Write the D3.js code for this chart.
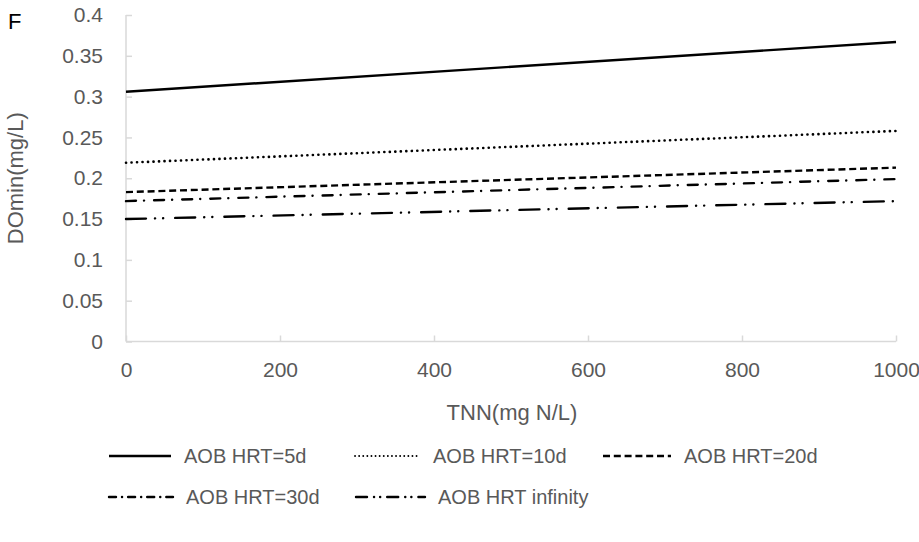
<!DOCTYPE html>
<html>
<head>
<meta charset="utf-8">
<script src="https://cdn.jsdelivr.net/npm/d3@7"></script>
<style>
  body { margin: 0; background: #fff; }
  svg { font-family: "Liberation Sans", Arial, sans-serif; }
  .axis path, .axis line { stroke: #d9d9d9; stroke-width: 1.5; }
  .axis text { fill: #595959; font-size: 21px; }
</style>
</head>
<body>
<div id="chart"></div>
<script>
// data (straight lines, value at TNN = 0 and 1000)
const tnn = [0, 1000];
const series_names = ["AOB HRT=5d", "AOB HRT=10d", "AOB HRT=20d", "AOB HRT=30d", "AOB HRT infinity"];
const hrt5 = [0.306, 0.367];
const hrt10 = [0.219, 0.258];
const hrt20 = [0.183, 0.213];
const hrt30 = [0.172, 0.199];
const hrtInf = [0.150, 0.172];
const x_ticks = [0, 200, 400, 600, 800, 1000];
const y_ticks = [0, 0.05, 0.1, 0.15, 0.2, 0.25, 0.3, 0.35, 0.4];

const width = 919, height = 542;
const plot_left = 126, plot_right = 896, plot_top = 15, plot_bottom = 341.5;

const svg = d3.select("#chart").append("svg")
    .attr("width", width)
    .attr("height", height);

const x = d3.scaleLinear().domain([0, 1000]).range([plot_left, plot_right]);
const y = d3.scaleLinear().domain([0, 0.4]).range([plot_bottom, plot_top]);

// dash styles per series
const dashes = ["none", "0.1,5.4", "7,3.8", "10,8,0.1,10", "20,9,0.1,8,0.1,12"];
const caps = ["butt", "round", "butt", "round", "round"];

svg.append("g")
    .attr("class", "axis")
    .attr("transform", "translate(0," + plot_bottom + ")")
    .call(d3.axisBottom(x).tickValues(x_ticks).tickSize(-6).tickPadding(21).tickFormat(d3.format("d")))
    .call(g => g.select(".domain").attr("d", "M" + plot_left + ",0H" + plot_right));

svg.append("g")
    .attr("class", "axis")
    .attr("transform", "translate(" + plot_left + ",0)")
    .call(d3.axisLeft(y).tickValues(y_ticks).tickSize(-6).tickPadding(23).tickFormat(d => String(+d.toFixed(2))))
    .call(g => g.select(".domain").attr("d", "M0," + plot_top + "V" + plot_bottom));

const all_series = [hrt5, hrt10, hrt20, hrt30, hrtInf];

const line = d3.line()
    .x(function(d, i) { return x(tnn[i]); })
    .y(function(d) { return y(d); });

all_series.forEach(function(s, i) {
  svg.append("path")
    .attr("d", line(s))
    .attr("fill", "none")
    .attr("stroke", "#000")
    .attr("stroke-width", i == 1 ? 2.6 : 2.4)
    .attr("stroke-linecap", caps[i])
    .attr("stroke-dasharray", dashes[i]);
});

// axis titles
svg.append("text")
    .attr("x", (plot_left + plot_right) / 2 + 1)
    .attr("y", 420)
    .attr("text-anchor", "middle")
    .attr("font-size", 22)
    .attr("fill", "#595959")
    .text("TNN(mg N/L)");

svg.append("text")
    .attr("transform", "translate(23," + ((plot_top + plot_bottom) / 2) + ") rotate(-90)")
    .attr("text-anchor", "middle")
    .attr("font-size", 22)
    .attr("fill", "#595959")
    .text("DOmin(mg/L)");

svg.append("text")
    .attr("x", 8)
    .attr("y", 29)
    .attr("font-size", 22)
    .attr("fill", "#000")
    .text("F");

// legend
const legend_pos = [[109, 456], [355, 456], [603, 456], [109, 497], [356, 497]];
const legend_len = [62, 65, 68, 64, 69];

series_names.forEach(function(name, i) {
  const p = legend_pos[i];
  const g = svg.append("g").attr("transform", "translate(" + p[0] + "," + p[1] + ")");
  g.append("line")
    .attr("x1", 0).attr("x2", legend_len[i])
    .attr("y1", 0).attr("y2", 0)
    .attr("stroke", "#000")
    .attr("stroke-width", i == 1 ? 1.8 : 2.4)
    .attr("stroke-linecap", caps[i])
    .attr("stroke-dasharray", i == 1 ? "0.1,4" : i == 3 ? "7,6,0.1,6" : i == 4 ? "11,7,0.1,6,0.1,7" : dashes[i]);
  g.append("text")
    .attr("x", legend_len[i] + 13)
    .attr("y", 7)
    .attr("font-size", 20)
    .attr("fill", "#595959")
    .text(name);
});
</script>
</body>
</html>
